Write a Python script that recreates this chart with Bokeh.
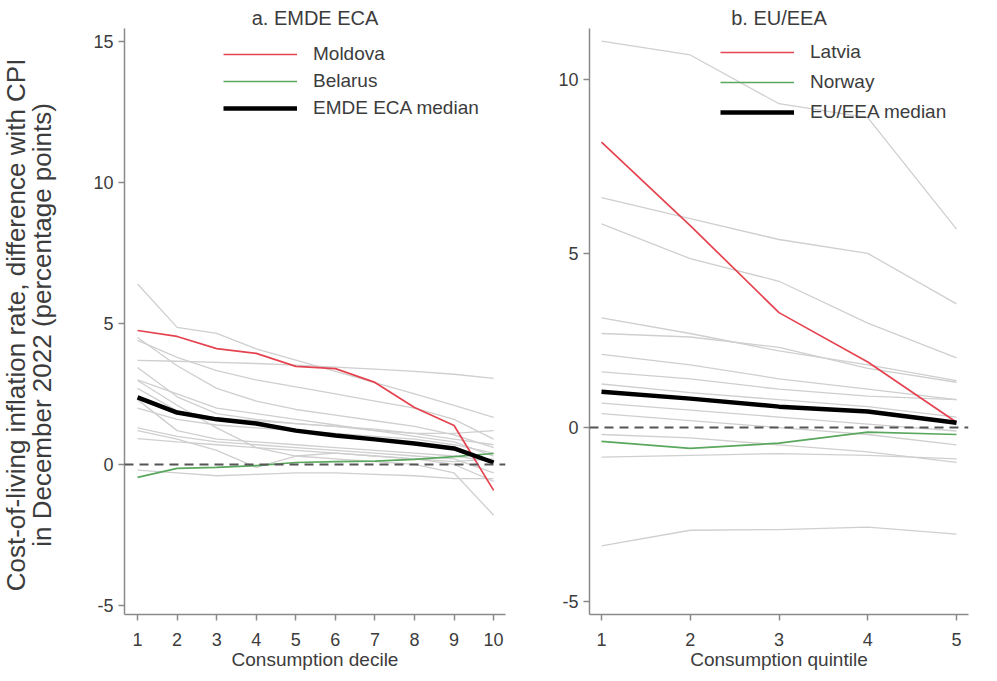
import math
from bokeh.plotting import figure
from bokeh.layouts import row
from bokeh.models import Span, Legend, LegendItem, FixedTicker, Range1d
from bokeh.core.properties import value
from bokeh.embed import file_html
from bokeh.resources import INLINE

# ---------------- data ----------------
deciles = [1, 2, 3, 4, 5, 6, 7, 8, 9, 10]
quintiles = [1, 2, 3, 4, 5]

moldova = [4.75, 4.54, 4.11, 3.94, 3.48, 3.40, 2.91, 2.02, 1.38, -0.92]
belarus = [-0.46, -0.14, -0.10, -0.04, 0.07, 0.10, 0.12, 0.18, 0.28, 0.39]
emde_median = [2.38, 1.84, 1.60, 1.45, 1.20, 1.03, 0.89, 0.74, 0.57, 0.07]

emde_others = [
    [6.40, 4.86, 4.65, 4.10, 3.70, 3.30, 2.90, 2.50, 2.10, 1.67],
    [3.69, 3.66, 3.62, 3.58, 3.52, 3.45, 3.38, 3.30, 3.20, 3.05],
    [4.40, 3.80, 3.33, 3.00, 2.75, 2.50, 2.25, 2.00, 1.60, 0.90],
    [4.50, 3.50, 2.70, 2.25, 1.95, 1.75, 1.55, 1.35, 1.05, 0.60],
    [3.44, 2.40, 1.80, 1.60, 1.45, 1.35, 1.25, 1.10, 0.90, 0.70],
    [2.98, 2.10, 1.30, 0.60, 0.30, 0.20, 0.10, 0.00, -0.30, -1.80],
    [2.70, 1.90, 1.65, 1.55, 1.45, 1.35, 1.20, 1.00, 0.80, 0.30],
    [1.30, 1.00, 0.80, 0.70, 0.60, 0.50, 0.40, 0.30, 0.20, -0.30],
    [0.92, 0.80, 0.70, 0.60, 0.50, 0.40, 0.30, 0.20, 0.00, -0.60],
    [2.00, 1.60, 1.40, 1.30, 1.20, 1.10, 1.00, 0.90, 0.70, 0.40],
    [1.20, 0.90, 0.50, -0.10, 0.30, 0.40, 0.30, 0.20, 0.10, 0.20],
    [-0.20, -0.30, -0.40, -0.35, -0.30, -0.30, -0.35, -0.40, -0.50, -0.50],
    [2.30, 1.20, 0.90, 0.80, 0.70, 0.60, 0.50, 0.40, 0.30, 0.10],
    [3.00, 2.50, 2.00, 1.80, 1.60, 1.40, 1.20, 1.10, 1.10, 1.20],
]

latvia = [8.20, 5.80, 3.30, 1.88, 0.15]
norway = [-0.40, -0.60, -0.45, -0.13, -0.20]
eu_median = [1.03, 0.83, 0.60, 0.46, 0.14]

eu_others = [
    [11.10, 10.70, 9.30, 8.90, 5.70],
    [6.60, 6.00, 5.40, 5.00, 3.55],
    [5.85, 4.85, 4.20, 3.00, 2.00],
    [3.15, 2.70, 2.20, 1.80, 1.35],
    [2.70, 2.60, 2.30, 1.70, 1.30],
    [2.10, 1.80, 1.40, 1.10, 0.80],
    [1.60, 1.40, 1.10, 0.90, 0.80],
    [1.25, 1.00, 0.80, 0.60, 0.30],
    [0.70, 0.50, 0.30, 0.10, -0.10],
    [0.40, 0.20, 0.00, -0.20, -0.50],
    [-0.85, -0.80, -0.75, -0.80, -0.90],
    [-0.20, -0.30, -0.50, -0.70, -1.00],
    [-3.40, -2.95, -2.93, -2.86, -3.06],
]

left_xticks = [1, 2, 3, 4, 5, 6, 7, 8, 9, 10]
left_yticks = [-5, 0, 5, 10, 15]
right_xticks = [1, 2, 3, 4, 5]
right_yticks = [-5, 0, 5, 10]
ytitle_lines = ["Cost-of-living inflation rate, difference with CPI",
                "in December 2022 (percentage points)"]

# ---------------- style ----------------
FONT = "Liberation Sans"
TXT = "#3c3c3c"
AX = "#8a8a8a"
GREY = "#cfcfcf"
RED = "#e5434f"
GREEN = "#5aa85e"
H = 680
W0 = 70  # width of the strip holding the y-axis title


def style(p, xticks, yticks, xlabel):
    p.xaxis.ticker = FixedTicker(ticks=xticks)
    p.yaxis.ticker = FixedTicker(ticks=yticks)
    p.yaxis.major_label_overrides = {t: str(t) for t in yticks}
    for ax in (p.xaxis[0], p.yaxis[0]):
        ax.axis_line_color = AX
        ax.axis_line_width = 1.5
        ax.major_tick_line_color = AX
        ax.major_tick_line_width = 1.5
        ax.major_tick_out = 6
        ax.major_tick_in = 0
        ax.minor_tick_line_color = None
        ax.major_label_text_font = FONT
        ax.major_label_text_font_size = "18px"
        ax.major_label_text_color = TXT
    p.xaxis.major_label_standoff = 12
    p.yaxis.major_label_standoff = 5
    p.xaxis.axis_label = xlabel
    p.xaxis.axis_label_text_font = FONT
    p.xaxis.axis_label_text_font_size = "19px"
    p.xaxis.axis_label_text_font_style = "normal"
    p.xaxis.axis_label_text_color = TXT
    p.xaxis.axis_label_standoff = 0
    p.xgrid.visible = False
    p.ygrid.visible = False
    p.outline_line_color = None
    p.title.text_font = FONT
    p.title.text_font_size = "20px"
    p.title.text_font_style = "normal"
    p.title.text_color = TXT
    p.title.align = "center"
    p.title.standoff = 0


# ---- strip with the shared y-axis title ----
p0 = figure(width=W0, height=H, output_backend="svg", toolbar_location=None,
            x_range=Range1d(0, W0), y_range=Range1d(0, H),
            min_border_left=0, min_border_right=0, min_border_top=0,
            min_border_bottom=0)
p0.axis.visible = False
p0.grid.visible = False
p0.outline_line_color = None
p0.text(x=[15, 41], y=[H - 344, H - 344], text=ytitle_lines,
        angle=math.pi / 2, text_align="center", text_baseline="middle",
        text_font=value(FONT), text_font_size="26px", text_color=TXT)

# ---- panel a ----
p1 = figure(width=540 - W0, height=H, output_backend="svg", toolbar_location=None,
            x_range=Range1d(0.67, 10.30), y_range=Range1d(-5.32, 15.46),
            min_border_left=124 - W0, min_border_right=35,
            min_border_top=28, min_border_bottom=H - 614,
            title="a. EMDE ECA")
style(p1, left_xticks, left_yticks, "Consumption decile")

for ys in emde_others:
    p1.line(deciles, ys, line_color=GREY, line_width=1.3)
p1.add_layout(Span(location=0, dimension="width", line_color="#555555",
                   line_width=2, line_dash="9 6"))
r_mol = p1.line(deciles, moldova, line_color=RED, line_width=1.7)
r_bel = p1.line(deciles, belarus, line_color=GREEN, line_width=1.7)
r_med1 = p1.line(deciles, emde_median, line_color="black", line_width=4.5)

leg1 = Legend(items=[LegendItem(label="Moldova", renderers=[r_mol]),
                     LegendItem(label="Belarus", renderers=[r_bel]),
                     LegendItem(label="EMDE ECA median", renderers=[r_med1])],
              location=(99, 586 - 17 - 74))
p1.add_layout(leg1)

# ---- panel b ----
p2 = figure(width=997 - 540, height=H, output_backend="svg", toolbar_location=None,
            x_range=Range1d(0.865, 5.135), y_range=Range1d(-5.37, 11.46),
            min_border_left=589 - 540, min_border_right=(997 - 540) - 49 - 379,
            min_border_top=28, min_border_bottom=H - 616,
            title="b. EU/EEA")
style(p2, right_xticks, right_yticks, "Consumption quintile")

for ys in eu_others:
    p2.line(quintiles, ys, line_color=GREY, line_width=1.3)
p2.add_layout(Span(location=0, dimension="width", line_color="#555555",
                   line_width=2, line_dash="9 6"))
r_lat = p2.line(quintiles, latvia, line_color=RED, line_width=1.7)
r_nor = p2.line(quintiles, norway, line_color=GREEN, line_width=1.7)
r_med2 = p2.line(quintiles, eu_median, line_color="black", line_width=4.5)

leg2 = Legend(items=[LegendItem(label="Latvia", renderers=[r_lat]),
                     LegendItem(label="Norway", renderers=[r_nor]),
                     LegendItem(label="EU/EEA median", renderers=[r_med2])],
              location=(131, 588 - 17 - 80))
p2.add_layout(leg2)

for leg, sp in ((leg1, 5), (leg2, 8)):
    leg.background_fill_alpha = 0
    leg.border_line_color = None
    leg.padding = 0
    leg.margin = 0
    leg.spacing = sp
    leg.glyph_width = 74
    leg.glyph_height = 20
    leg.label_height = 20
    leg.label_standoff = 16
    leg.label_text_font = FONT
    leg.label_text_font_size = "19px"
    leg.label_text_color = TXT

layout = row(p0, p1, p2)
open("out.html", "w").write(file_html(layout, INLINE))
